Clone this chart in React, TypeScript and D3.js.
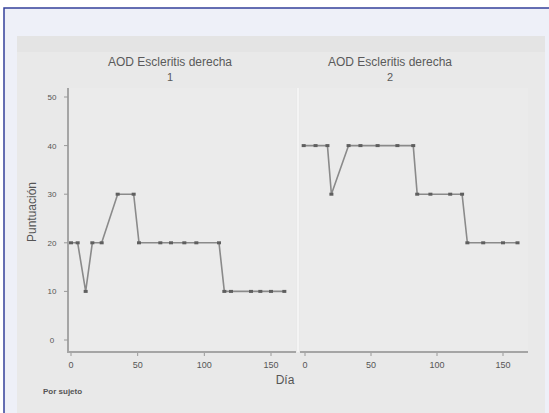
import React from "react";
import * as d3 from "d3";

const panelTitles = ["AOD Escleritis derecha", "AOD Escleritis derecha"];
const panelSubtitles = ["1", "2"];
const yTicks = [0, 1, 2, 3, 4, 5];
const yTickLabels = ["0", "10", "20", "30", "40", "50"];
const xTicks = [0, 50, 100, 150];
const xTickLabels = ["0", "50", "100", "150"];

const days1 = [0, 5, 11, 16, 23, 35, 47, 51, 67, 75, 85, 94, 111, 115, 120, 135, 142, 150, 160];
const vals1 = [2, 2, 1, 2, 2, 3, 3, 2, 2, 2, 2, 2, 2, 1, 1, 1, 1, 1, 1];
const days2 = [-1, 8, 17, 20, 33, 42, 55, 70, 82, 85, 95, 110, 119, 123, 135, 150, 161];
const vals2 = [4, 4, 4, 3, 4, 4, 4, 4, 4, 3, 3, 3, 3, 2, 2, 2, 2];

const yAxisTitle = "Puntuación";
const xAxisTitle = "Día";
const note = "Por sujeto";

export default function App() {
  const W = 549, H = 413;
  const y = d3.scaleLinear().domain([0, 5]).range([340, 97]);
  const panels = [
    { x: d3.scaleLinear().domain([0, 150]).range([71, 271]), days: days1, vals: vals1, left: 68, right: 296, tc: 170 },
    { x: d3.scaleLinear().domain([0, 150]).range([305, 503]), days: days2, vals: vals2, left: 300, right: 528, tc: 390 },
  ];
  const font = "'Liberation Sans', Arial, sans-serif";
  return (
    <svg width={W} height={H} style={{ position: "absolute", left: 0, top: 0 }} fontFamily={font}>
      <rect x={0} y={0} width={W} height={H} fill="#ffffff" />
      <rect x={4} y={8} width={W + 10} height={H} fill="#eef0f8" stroke="#34409a" strokeWidth={1.5} />
      <rect x={17} y={36} width={528} height={H - 36} fill="#e9e9e9" />
      <rect x={17} y={36} width={528} height={16} fill="#e4e4e4" />
      {panels.map((p, i) => {
        const line = d3.line<number>().x((_, k) => p.x(p.days[k])).y((v) => y(v));
        return (
          <g key={i}>
            <rect x={p.left} y={88} width={p.right - p.left} height={264} fill="#ebebeb" />
            <text x={p.tc} y={66} textAnchor="middle" fontSize={12} fill="#5a5a5a">{panelTitles[i]}</text>
            <text x={p.tc} y={81} textAnchor="middle" fontSize={11} fill="#5a5a5a">{panelSubtitles[i]}</text>
            {xTicks.map((t, k) => (
              <g key={k}>
                <line x1={p.x(t)} x2={p.x(t)} y1={352} y2={356} stroke="#999" />
                <text x={p.x(t)} y={368} textAnchor="middle" fontSize={9} fill="#555">{xTickLabels[k]}</text>
              </g>
            ))}
            <line x1={p.left} x2={p.right} y1={352} y2={352} stroke="#a5a5a5" strokeWidth={2} />
            <path d={line(p.vals) || ""} fill="none" stroke="#8a8a8a" strokeWidth={1.6} />
            {p.vals.map((v, k) => (
              <rect key={k} x={p.x(p.days[k]) - 2} y={y(v) - 1.5} width={4} height={3} fill="#5f5f5f" />
            ))}
          </g>
        );
      })}
      <line x1={298} x2={298} y1={88} y2={352} stroke="#f4f4f4" strokeWidth={2} />
      <line x1={68} x2={68} y1={88} y2={353} stroke="#a5a5a5" strokeWidth={2} />
      {yTicks.map((t, k) => (
        <g key={k}>
          <line x1={64} x2={68} y1={y(t)} y2={y(t)} stroke="#999" />
          <text x={52} y={y(t) + 3} textAnchor="middle" fontSize={8} fill="#555">{yTickLabels[k]}</text>
        </g>
      ))}
      <text transform="translate(36,212) rotate(-90)" textAnchor="middle" fontSize={12} fill="#555">{yAxisTitle}</text>
      <text x={285} y={384} textAnchor="middle" fontSize={12} fill="#555">{xAxisTitle}</text>
      <text x={43} y={394} fontSize={8} fill="#555" fontWeight="bold">{note}</text>
    </svg>
  );
}
